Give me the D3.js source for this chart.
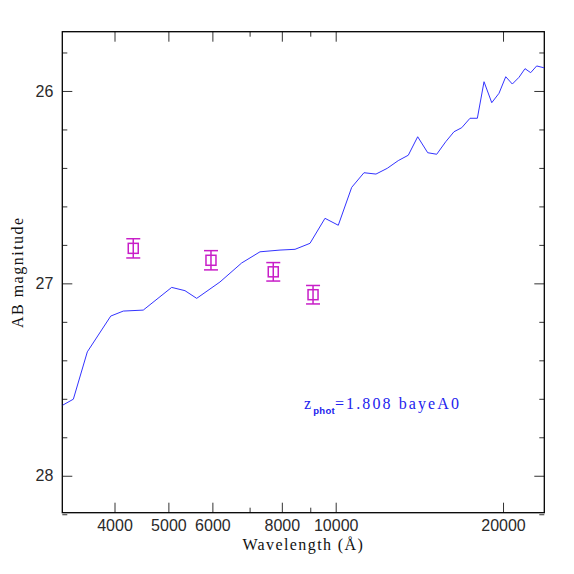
<!DOCTYPE html>
<html>
<head>
<meta charset="utf-8">
<script src="https://cdn.jsdelivr.net/npm/d3@7"></script>
<style>
  body { margin: 0; background: #fff; }
  .tick text { font-family: "Liberation Sans", Arial, sans-serif; font-size: 16px; fill: #2a2a2a; }
  .tick line { stroke: #333; }
  .lab { font-family: "Liberation Serif", serif; font-size: 16px; fill: #111; }
</style>
</head>
<body>
<svg id="chart" width="574" height="574"></svg>
<script>
// model spectrum (wavelength in Angstrom, AB mag)
var specWave = [3228, 3373, 3574, 3938, 4148, 4506, 5069, 5356, 5622, 6191, 6774, 7308,
  7940, 8450, 8990, 9566, 10108, 10685, 11243, 11816, 12382, 12959, 13508, 14045, 14640,
  15196, 15773, 16324, 16855, 17444, 17982, 18487, 19088, 19672, 20227, 20785, 21370,
  21908, 22428, 22991, 23730];
var specMag = [27.633, 27.602, 27.356, 27.170, 27.144, 27.139, 27.021, 27.038, 27.078,
  26.993, 26.894, 26.836, 26.827, 26.823, 26.792, 26.662, 26.698, 26.501, 26.425, 26.432,
  26.402, 26.362, 26.334, 26.238, 26.321, 26.329, 26.264, 26.212, 26.191, 26.142, 26.142,
  25.952, 26.061, 26.012, 25.926, 25.964, 25.929, 25.884, 25.905, 25.870, 25.880];

// observed photometry
var photWave = [4323, 5965, 7721, 9104];
var photMag = [26.818, 26.880, 26.940, 27.059];
var photErr = [0.050, 0.050, 0.048, 0.048];

var xMajor = [4000, 5000, 6000, 8000, 10000, 20000];
var xMinor = [7000, 9000];
var yMajor = [26, 27, 28];
var yMinor = [25.8, 26.2, 26.4, 26.6, 26.8, 27.2, 27.4, 27.6, 27.8, 28.2];

var zLabel = "1.808 bayeA0";

var padL = 62.3, padR = 544.3, padT = 31.7, padB = 512.7;
var svg = d3.select("#chart");

var x = d3.scaleLog().domain([3222, 23730]).range([padL, padR]);
var y = d3.scaleLinear().domain([25.692, 28.192]).range([padT, padB]);

svg.append("clipPath").attr("id", "clip")
  .append("rect").attr("x", padL).attr("y", padT)
  .attr("width", padR - padL).attr("height", padB - padT);

// axes: ticks point inwards on all four sides
function axisG(axis, tx, ty) {
  var g = svg.append("g").attr("transform", `translate(${tx},${ty})`).call(axis);
  g.select(".domain").remove();
  return g;
}
axisG(d3.axisBottom(x).tickValues(xMajor).tickSize(-10).tickPadding(7).tickFormat(d3.format("d")), 0, padB);
axisG(d3.axisBottom(x).tickValues(xMinor).tickSize(-5).tickFormat(""), 0, padB);
axisG(d3.axisTop(x).tickValues(xMajor).tickSize(-10).tickFormat(""), 0, padT);
axisG(d3.axisTop(x).tickValues(xMinor).tickSize(-5).tickFormat(""), 0, padT);
axisG(d3.axisLeft(y).tickValues(yMajor).tickSize(-10).tickPadding(9).tickFormat(d3.format("d")), padL, 0);
axisG(d3.axisLeft(y).tickValues(yMinor).tickSize(-5).tickFormat(""), padL, 0);
axisG(d3.axisRight(y).tickValues(yMajor).tickSize(-10).tickFormat(""), padR, 0);
axisG(d3.axisRight(y).tickValues(yMinor).tickSize(-5).tickFormat(""), padR, 0);

svg.append("rect")
  .attr("x", padL).attr("y", padT)
  .attr("width", padR - padL).attr("height", padB - padT)
  .attr("fill", "none").attr("stroke", "#000").attr("stroke-width", 1.3);

// spectrum
var spec = specWave.map((w, i) => [w, specMag[i]]);
svg.append("path")
  .datum(spec)
  .attr("clip-path", "url(#clip)")
  .attr("fill", "none")
  .attr("stroke", "#3333ff")
  .attr("stroke-width", 1)
  .attr("d", d3.line().x(d => x(d[0])).y(d => y(d[1])));

// photometric points with error bars
var pts = svg.append("g")
  .attr("stroke", "#c81ec8")
  .attr("stroke-width", 1.5)
  .attr("fill", "none")
  .selectAll("g")
  .data(photWave.map((w, i) => ({w: w, m: photMag[i], e: photErr[i]})))
  .join("g");

pts.append("line")
  .attr("x1", d => x(d.w)).attr("x2", d => x(d.w))
  .attr("y1", d => y(d.m - d.e)).attr("y2", d => y(d.m + d.e));
pts.append("line")
  .attr("x1", d => x(d.w) - 7).attr("x2", d => x(d.w) + 7)
  .attr("y1", d => y(d.m - d.e)).attr("y2", d => y(d.m - d.e));
pts.append("line")
  .attr("x1", d => x(d.w) - 7).attr("x2", d => x(d.w) + 7)
  .attr("y1", d => y(d.m + d.e)).attr("y2", d => y(d.m + d.e));
pts.append("rect")
  .attr("x", d => x(d.w) - 5).attr("y", d => y(d.m) - 5)
  .attr("width", 10).attr("height", 10);

// labels
svg.append("text").attr("class", "lab")
  .attr("x", (padL + padR) / 2).attr("y", 550)
  .attr("text-anchor", "middle")
  .style("letter-spacing", "1.4px")
  .text("Wavelength (Å)");

svg.append("text").attr("class", "lab")
  .attr("transform", `translate(23,${(padT + padB) / 2}) rotate(-90)`)
  .attr("text-anchor", "middle")
  .style("letter-spacing", "1.5px")
  .text("AB magnitude");

var zt = svg.append("text").attr("class", "lab")
  .attr("x", 304).attr("y", 409)
  .style("font-size", "16px")
  .style("letter-spacing", "2.1px")
  .style("fill", "#2222ee");
zt.append("tspan").text("z");
zt.append("tspan").attr("dy", 5).style("font-size", "9.5px").style("letter-spacing", "0.3px")
  .style("font-family", "Liberation Sans, sans-serif").style("font-weight", "bold").text("phot");
zt.append("tspan").attr("dy", -5).text("=" + zLabel);
</script>
</body>
</html>
